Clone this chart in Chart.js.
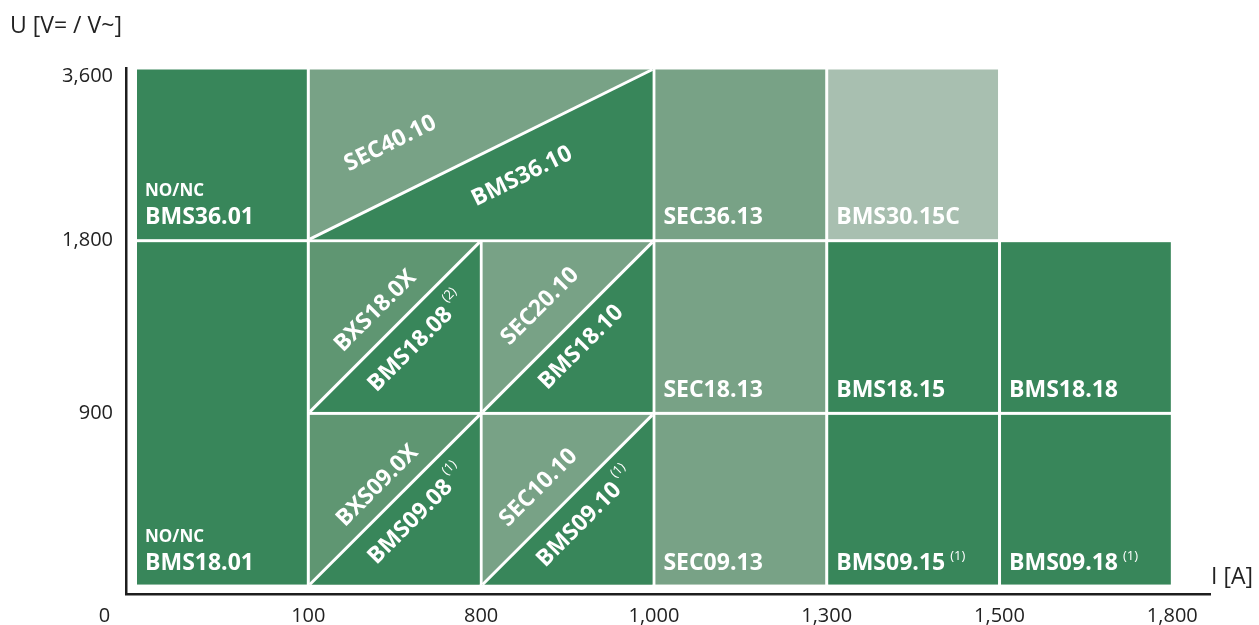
<!DOCTYPE html>
<html>
<head>
<meta charset="utf-8">
<script src="https://cdn.jsdelivr.net/npm/chart.js@4"></script>
<style>
  body { margin: 0; background: #fff; }
  #wrap { width: 1259px; height: 625px; }
</style>
</head>
<body>
<div id="wrap"><canvas id="chart"></canvas></div>
<script>
// Axis tick labels (evenly spaced, index based)
const currentTicks = ['0', '100', '800', '1,000', '1,300', '1,500', '1,800'];
const voltageTicks = ['900', '1,800', '3,600'];

// Full blocks: name, I range and U range as tick indices
const blockNames = ['BMS36.01', 'SEC36.13', 'BMS30.15C', 'BMS18.01', 'SEC18.13', 'BMS18.15', 'BMS18.18', 'SEC09.13', 'BMS09.15', 'BMS09.18'];
const blockI = [[0, 1], [3, 4], [4, 5], [0, 1], [3, 4], [4, 5], [5, 6], [3, 4], [4, 5], [5, 6]];
const blockU = [[2, 3], [2, 3], [2, 3], [0, 2], [1, 2], [1, 2], [1, 2], [0, 1], [0, 1], [0, 1]];
const blockPrefix = ['NO/NC', '', '', 'NO/NC', '', '', '', '', '', ''];
const blockNote = ['', '', '', '', '', '', '', '', '(1)', '(1)'];

// Split blocks: upper-left / lower-right triangle
const splitUpper = ['SEC40.10', 'BXS18.0X', 'SEC20.10', 'BXS09.0X', 'SEC10.10'];
const splitLower = ['BMS36.10', 'BMS18.08', 'BMS18.10', 'BMS09.08', 'BMS09.10'];
const splitLowerNote = ['', '(2)', '', '(1)', '(1)'];
const splitI = [[1, 3], [1, 2], [2, 3], [1, 2], [2, 3]];
const splitU = [[2, 3], [1, 2], [1, 2], [0, 1], [0, 1]];

// label placement along the diagonal: [fraction, px away from line]
const upperPlace = [[0.30, 50], [0.49, 25], [0.48, 34], [0.49, 22], [0.45, 29]];
const lowerPlace = [[0.57, 38], [0.52, 27], [0.48, 24], [0.52, 27], [0.50, 26]];

const shade = { BMS: '#38865a', SEC: '#78a286', BXS: '#5f9672', light: '#a8bfb0' };
const fillFor = name => name === 'BMS30.15C' ? shade.light : shade[name.slice(0, 3)];

const FONT = '"Open Sans", "Noto Sans", sans-serif';
const LABEL = 'bold 23px ' + FONT;
const NOTE = '13px ' + FONT;

const blocksPlugin = {
  id: 'blocks',
  beforeDatasetsDraw(chart) {
    const c = chart.ctx;
    const { x, y } = chart.scales;
    const gap = 1.5;
    const box = (iR, uR) => ({
      l: x.getPixelForValue(iR[0]) + gap,
      r: x.getPixelForValue(iR[1]) - gap,
      t: y.getPixelForValue(uR[1]) + gap,
      b: y.getPixelForValue(uR[0]) - gap
    });
    c.save();
    c.textBaseline = 'alphabetic';
    c.textAlign = 'left';

    blockNames.forEach((name, k) => {
      const bx = box(blockI[k], blockU[k]);
      c.fillStyle = fillFor(name);
      c.fillRect(bx.l, bx.t, bx.r - bx.l, bx.b - bx.t);
      c.fillStyle = '#fff';
      c.font = LABEL;
      c.fillText(name, bx.l + 8, bx.b - 15);
      const w = c.measureText(name).width;
      if (blockNote[k]) {
        c.font = NOTE;
        c.fillText(blockNote[k], bx.l + 8 + w + 5, bx.b - 25);
      }
      if (blockPrefix[k]) {
        c.font = 'bold 17px ' + FONT;
        c.fillText(blockPrefix[k], bx.l + 8, bx.b - 43);
      }
    });

    splitUpper.forEach((up, k) => {
      const bx = box(splitI[k], splitU[k]);
      const w = bx.r - bx.l, h = bx.b - bx.t, len = Math.hypot(w, h);
      c.fillStyle = fillFor(up);
      c.fillRect(bx.l, bx.t, w, h);
      c.fillStyle = fillFor(splitLower[k]);
      c.beginPath();
      c.moveTo(bx.l, bx.b);
      c.lineTo(bx.r, bx.t);
      c.lineTo(bx.r, bx.b);
      c.closePath();
      c.fill();
      c.strokeStyle = '#fff';
      c.lineWidth = 3;
      c.beginPath();
      c.moveTo(bx.l, bx.b);
      c.lineTo(bx.r, bx.t);
      c.stroke();

      const ang = Math.atan2(-h, w);
      const nx = -h / len, ny = -w / len;
      const put = (text, note, place, side) => {
        const px = bx.l + place[0] * w + side * nx * place[1];
        const py = bx.b - place[0] * h + side * ny * place[1];
        c.save();
        c.translate(px, py);
        c.rotate(ang);
        c.fillStyle = '#fff';
        c.textBaseline = 'middle';
        c.font = LABEL;
        const mw = c.measureText(text).width;
        c.font = NOTE;
        const nw = note ? c.measureText(note).width + 4 : 0;
        const x0 = -(mw + nw) / 2;
        c.font = LABEL;
        c.fillText(text, x0, 0);
        if (note) {
          c.font = NOTE;
          c.fillText(note, x0 + mw + 4, -11);
        }
        c.restore();
      };
      put(up, '', upperPlace[k], 1);
      put(splitLower[k], splitLowerNote[k], lowerPlace[k], -1);
    });
    c.restore();
  },
  afterDraw(chart) {
    const c = chart.ctx;
    c.save();
    c.fillStyle = '#222';
    c.font = '23px ' + FONT;
    c.textBaseline = 'middle';
    c.textAlign = 'left';
    c.fillText('U [V= / V~]', 10, 26);
    c.fillText('I [A]', 1211, 577);
    c.restore();
  }
};

const tickFont = { family: FONT, size: 20 };

new Chart(document.getElementById('chart'), {
  type: 'scatter',
  data: { datasets: [{ data: [] }] },
  options: {
    responsive: true,
    maintainAspectRatio: false,
    animation: false,
    layout: { padding: { top: 68, right: 49, left: 0, bottom: 0 } },
    plugins: { legend: { display: false }, tooltip: { enabled: false } },
    scales: {
      x: {
        type: 'linear',
        min: -0.055,
        max: 6.218,
        afterBuildTicks: s => { s.ticks = currentTicks.map((t, i) => ({ value: i === 0 ? -0.18 : i })); },
        afterFit: s => { s.height = 31; },
        grid: { display: false, drawTicks: false },
        border: { display: true, color: '#1e1e1e', width: 2.5 },
        ticks: {
          autoSkip: false, maxRotation: 0, padding: 10, color: '#222', font: tickFont,
          callback: (v, i) => currentTicks[i]
        }
      },
      y: {
        type: 'linear',
        min: -0.046,
        max: 3,
        afterBuildTicks: s => { s.ticks = voltageTicks.map((t, i) => ({ value: i === voltageTicks.length - 1 ? i + 0.95 : i + 1 })); },
        afterFit: s => { s.width = 126; },
        grid: { display: false, drawTicks: false },
        border: { display: true, color: '#1e1e1e', width: 2.5 },
        ticks: {
          autoSkip: false, padding: 13, color: '#222', font: tickFont,
          callback: (v, i) => voltageTicks[i]
        }
      }
    }
  },
  plugins: [blocksPlugin]
});
</script>
</body>
</html>
